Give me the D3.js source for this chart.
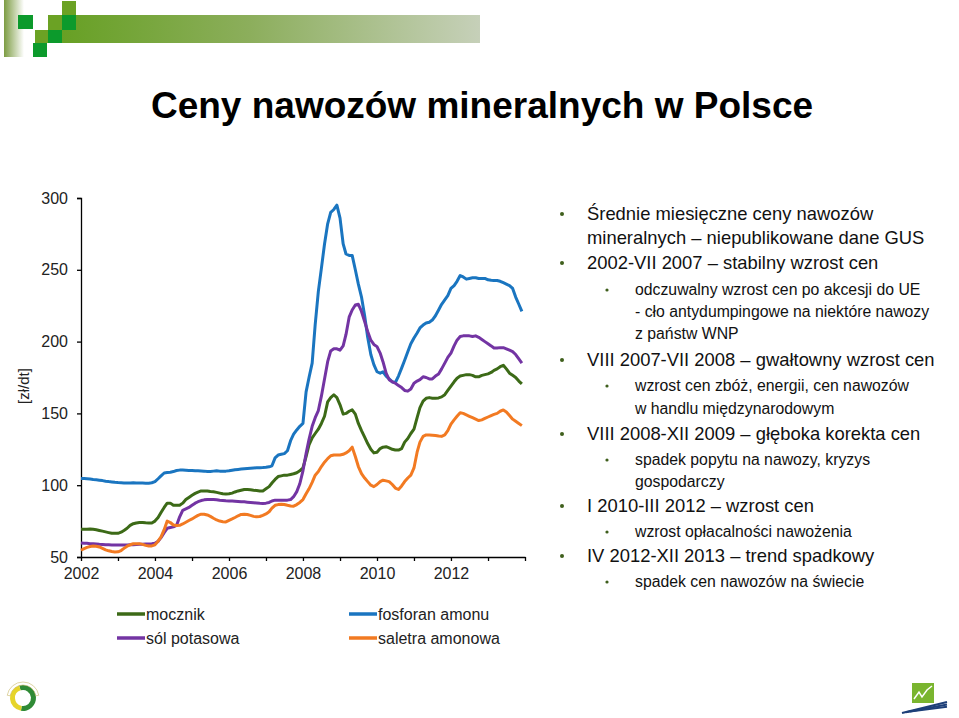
<!DOCTYPE html>
<html>
<head>
<meta charset="utf-8">
<script src="https://cdn.jsdelivr.net/npm/d3@7"></script>
<style>
  body { margin: 0; background: #fff; }
  svg { display: block; font-family: "Liberation Sans", Arial, sans-serif; }
</style>
</head>
<body>
<svg width="959" height="718"></svg>
<script>
// monthly prices, Jan 2002 - Dec 2013 [zl/dt]
var startYear = 2002;
var mocznik = [
  69.3,69.3,69.3,69.5,69.3,69,68.5,68,67.5,67,66.5,66.5,
  66.5,67.3,68.5,70,72,73.2,73.7,74,74,73.8,73.7,73.7,
  75,77.5,81,84.5,87.5,87.5,86,86,86,87.5,90,91.5,
  93,94.3,95.2,96,96,96,95.6,95.4,95,94.5,94,93.8,
  94,94.5,95.3,96,96.5,97,97,96.8,96.5,96.3,96,96,
  97.5,99,101.5,104,106,106.5,107,107,107.5,108,108.7,110,
  112,120,128,133,136,139,143,148,158,161,163,161,
  156,149.5,150,151.5,152.5,149.5,143,138,133.5,129,125,122.5,
  123,125.5,126.5,126.8,126,125,124.5,124.5,125.5,130,132.5,136,
  139,147,154,158.5,160.5,161,160.6,160.6,160.8,161.5,163,166,
  169,172,174.5,176,176.5,177,177,176.5,175.5,175.5,176.5,177,
  177.5,178.5,180,181,182.5,183.5,181,178,176.5,175,172.5,170.5
];
var fosforan = [
  104.7,104.6,104.5,104.3,104,103.8,103.5,103.2,102.8,102.5,102.3,102,
  101.8,101.7,101.6,101.5,101.6,101.7,101.6,101.5,101.5,101.4,101.4,101.7,
  102.5,104.5,106.5,108.5,108.8,109,109.5,110.2,110.5,110.5,110.4,110.3,
  110.2,110,110,109.9,109.8,109.6,109.6,109.8,110,109.8,109.7,109.8,
  110,110.4,110.8,111,111.2,111.4,111.6,111.8,112,112.1,112.2,112.3,
  112.5,112.8,113.5,119,121,121.5,122,124,131,135.5,138.5,141,
  143,165,175,185,212,235,251,268,282,290,292,295,
  286,268,261,260,260,250,240,231,218,203,191,184,
  179,178,179,176,174,172,171.5,176,181.5,187,193,198.5,
  202.5,206,209.5,211.5,213,213.5,215,218,222,226,229,232,
  237,239,242,246,245,243.5,244,244.5,244.5,244,244,244,
  243,242.7,242.5,242.5,242,241,240,239,237,231,226,221
];
var solPotasowa = [
  59.8,59.6,59.5,59.3,59.2,59,58.8,58.7,58.5,58.5,58.4,58.3,
  58.3,58.3,58.3,58.4,58.5,58.6,58.7,58.8,58.8,59,59,59.2,
  59.5,61,63.5,67,70,70.5,71,72,78,82.5,83.5,84.5,
  86,87.5,88.5,89.3,89.8,90.1,90.1,90,89.8,89.5,89.3,89.1,
  89,89,88.9,88.7,88.5,88.4,88.2,88,87.8,87.6,87.4,87.3,
  87.5,88,89,89.6,89.6,89.6,89.6,89.6,90,92,95.5,101,
  110,122,132,141,147,152,162,174,186,193.5,195,195,
  194,197,205,217,222,225.5,226,221,214,207,201,198,
  196.5,192,186,178,173.5,172,171,169.5,168,166,165.5,167,
  171,172.5,173.5,175.5,175,174,174,176,177.5,181,185,189,
  192,197,201,203.5,204,204,204,203.5,204,203,201.5,200,
  198.5,197,195.5,195.5,195.8,195.8,195,194,193,191,188,185
];
var saletra = [
  54.7,55.8,56.7,57.3,57.6,57.5,57,56,55,54.3,53.8,53.5,
  53.6,54.5,56,57.5,58.5,59.2,59.3,59.3,58.8,58.1,57.7,57.7,
  58.5,61,64,69,75,74,72.3,72,72.1,73,74.2,75.4,
  76.5,77.8,79,79.8,79.8,79.3,78.3,77,75.8,75,74.6,74.4,
  75.5,76.5,77.5,78.7,79.6,79.8,79.6,79,78.3,78,78.2,79,
  80,81.5,84,86,86.5,86.8,86.6,86,85.5,85.4,86.5,88,
  90,94,97.5,102,107,109.5,113,116,118.5,120.5,121,121,
  121,121.5,122.5,124,126.5,120,113,108,105,102.5,100,99,
  100.5,102.5,103.5,103,102.5,100.5,98,97,99.5,102.5,105,107,
  112,123,130,134,135,135,134.8,134.6,134.2,134,135,138,
  142.5,145.5,148,150.5,150,149,148,147,146,145,145.5,146.5,
  147.5,148.5,149.3,150,151.5,152.4,151,148.5,146,144.5,143,141.5
];
var yTicks = [50, 100, 150, 200, 250, 300];
var yearLabels = [2002, 2004, 2006, 2008, 2010, 2012];

var series = [
  {name: "mocznik", values: mocznik, color: "#3c6a17"},
  {name: "fosforan amonu", values: fosforan, color: "#1a75c0"},
  {name: "sól potasowa", values: solPotasowa, color: "#7334a3"},
  {name: "saletra amonowa", values: saletra, color: "#f27a22"}
];

var notes = [
  {lvl: 1, text: "Średnie miesięczne ceny nawozów", bullet: true, y: 220},
  {lvl: 1, text: "mineralnych – niepublikowane dane GUS", bullet: false, y: 244},
  {lvl: 1, text: "2002-VII 2007 – stabilny wzrost cen", bullet: true, y: 269},
  {lvl: 2, text: "odczuwalny wzrost cen po akcesji do UE", bullet: true, y: 295},
  {lvl: 2, text: "- cło antydumpingowe na niektóre nawozy", bullet: false, y: 317},
  {lvl: 2, text: "z państw WNP", bullet: false, y: 339},
  {lvl: 1, text: "VIII 2007-VII 2008 – gwałtowny wzrost cen", bullet: true, y: 366},
  {lvl: 2, text: "wzrost cen zbóż, energii, cen nawozów", bullet: true, y: 391},
  {lvl: 2, text: "w handlu międzynarodowym", bullet: false, y: 414},
  {lvl: 1, text: "VIII 2008-XII 2009 – głęboka korekta cen", bullet: true, y: 440},
  {lvl: 2, text: "spadek popytu na nawozy, kryzys", bullet: true, y: 465},
  {lvl: 2, text: "gospodarczy", bullet: false, y: 487},
  {lvl: 1, text: "I 2010-III 2012 – wzrost cen", bullet: true, y: 512},
  {lvl: 2, text: "wzrost opłacalności nawożenia", bullet: true, y: 537},
  {lvl: 1, text: "IV 2012-XII 2013 – trend spadkowy", bullet: true, y: 562},
  {lvl: 2, text: "spadek cen nawozów na świecie", bullet: true, y: 587}
];

var svg = d3.select("svg");
var defs = svg.append("defs");

// header banner
var g1 = defs.append("linearGradient").attr("id", "bar");
g1.append("stop").attr("offset", "0%").attr("stop-color", "#67a024");
g1.append("stop").attr("offset", "45%").attr("stop-color", "#8cae5c");
g1.append("stop").attr("offset", "100%").attr("stop-color", "#c6d0b9");
var g2 = defs.append("linearGradient").attr("id", "stripe");
g2.append("stop").attr("offset", "0%").attr("stop-color", "#7c9c42");
g2.append("stop").attr("offset", "100%").attr("stop-color", "#ffffff");

svg.append("rect").attr("x", 4).attr("y", 0).attr("width", 20).attr("height", 57).attr("fill", "url(#stripe)");
svg.append("rect").attr("x", 62).attr("y", 15).attr("width", 418).attr("height", 28).attr("fill", "url(#bar)");
var squares = [
  [18, 15, 15, 14, "#0c9a2c"], [62, 1, 14, 14, "#6ba224"], [62, 15, 14, 15, "#0c9a2c"],
  [48, 15, 14, 15, "#6ba224"], [35, 30, 13, 13, "#6ba224"], [48, 30, 14, 13, "#0c9a2c"],
  [33, 43, 14, 14, "#0c9a2c"]
];
squares.forEach(function (s) {
  svg.append("rect").attr("x", s[0]).attr("y", s[1]).attr("width", s[2]).attr("height", s[3]).attr("fill", s[4]);
});

svg.append("text")
  .attr("x", 482).attr("y", 118)
  .attr("text-anchor", "middle")
  .style("font-size", "37px").style("font-weight", "bold")
  .text("Ceny nawozów mineralnych w Polsce");

// chart
var x = d3.scaleTime().domain([new Date(2002, 0, 1), new Date(2014, 0, 1)]).range([81, 525]);
var y = d3.scaleLinear().domain([50, 300]).range([557, 198]);

var line = d3.line()
  .x(function (d, i) { return x(new Date(startYear, i, 1)); })
  .y(function (d) { return y(d); });

svg.append("g")
  .attr("transform", "translate(81,0)")
  .call(d3.axisLeft(y).tickValues(yTicks).tickSize(4).tickPadding(9).tickFormat(d3.format("d")))
  .call(function (g) {
    g.selectAll("text").style("font-size", "16px").attr("fill", "#222");
    g.selectAll("line, path").attr("stroke", "#000").attr("stroke-width", 1.3);
  });

svg.append("g")
  .attr("transform", "translate(0,557)")
  .call(d3.axisBottom(x).ticks(d3.timeYear.every(1)).tickSize(4).tickPadding(7).tickSizeOuter(0)
    .tickFormat(function (d) {
      var yr = d.getFullYear();
      return yearLabels.indexOf(yr) >= 0 ? yr : "";
    }))
  .call(function (g) {
    g.selectAll("text").style("font-size", "16px").attr("fill", "#222");
    g.selectAll("line, path").attr("stroke", "#000").attr("stroke-width", 1.3);
  });

svg.append("text")
  .attr("transform", "translate(29,386) rotate(-90)")
  .attr("text-anchor", "middle")
  .style("font-size", "15px").attr("fill", "#222")
  .text("[zł/dt]");

series.forEach(function (s) {
  svg.append("path")
    .datum(s.values)
    .attr("d", line)
    .attr("fill", "none")
    .attr("stroke", s.color)
    .attr("stroke-width", 3)
    .attr("stroke-linejoin", "round");
});

// legend
var legendPos = {"mocznik": [117, 614], "sól potasowa": [117, 638], "fosforan amonu": [349, 614], "saletra amonowa": [349, 638]};
series.forEach(function (s) {
  var p = legendPos[s.name];
  svg.append("line").attr("x1", p[0]).attr("x2", p[0] + 28).attr("y1", p[1]).attr("y2", p[1])
    .attr("stroke", s.color).attr("stroke-width", 3.5);
  svg.append("text").attr("x", p[0] + 29).attr("y", p[1] + 6)
    .style("font-size", "16px").attr("fill", "#222").text(s.name);
});

// notes on the right
notes.forEach(function (n) {
  var tx = n.lvl == 1 ? 587 : 635;
  var bx = n.lvl == 1 ? 562 : 607;
  if (n.bullet) {
    svg.append("circle").attr("cx", bx).attr("cy", n.y - (n.lvl == 1 ? 6 : 5)).attr("r", n.lvl == 1 ? 2 : 1.6)
      .attr("fill", "#3f5f1c");
  }
  svg.append("text").attr("x", tx).attr("y", n.y)
    .style("font-size", n.lvl == 1 ? "18.4px" : "15.8px")
    .attr("fill", "#111")
    .text(n.text);
});

// bottom logos
var arc = d3.arc().innerRadius(8).outerRadius(13);
var logo = svg.append("g").attr("transform", "translate(23,698)");
logo.append("path").attr("d", arc({startAngle: -0.3, endAngle: 3.3})).attr("fill", "#2f8a35");
logo.append("path").attr("d", arc({startAngle: 3.3, endAngle: 5.98})).attr("fill", "#e6d42a");
logo.append("path").attr("d", d3.arc().innerRadius(13).outerRadius(16)({startAngle: -1.4, endAngle: 1.4}))
  .attr("fill", "none").attr("stroke", "#c9b96a").attr("stroke-width", 0.6);

var logo2 = svg.append("g");
logo2.append("rect").attr("x", 912).attr("y", 683).attr("width", 22).attr("height", 20).attr("fill", "#7ab52f");
logo2.append("path").attr("d", "M914,699 L919,692 L922,697 L927,690 L932,686")
  .attr("fill", "none").attr("stroke", "#fff").attr("stroke-width", 1.5);
[0, 4, 8].forEach(function (o) {
  logo2.append("line").attr("x1", 902 + o).attr("y1", 713 - o * 0.2).attr("x2", 947).attr("y2", 702 + o * 0.6)
    .attr("stroke", "#1d3f78").attr("stroke-width", 2);
});
</script>
</body>
</html>
